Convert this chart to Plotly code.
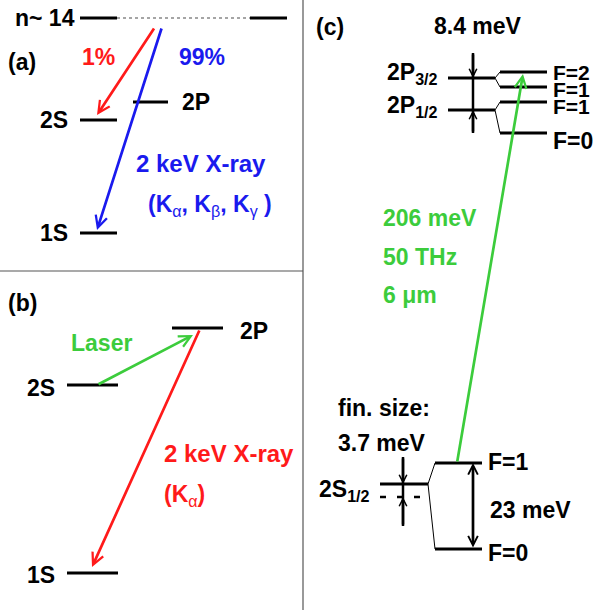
import plotly.graph_objects as go

W, H = 597, 610
FONT = "Liberation Sans"
FS = 23
RED, BLUE, GREEN, BLACK, GRAY = "#ff1a1a", "#1a1aee", "#3ccc3c", "#000000", "#555555"

# ---------------- Panel (a): cascade from n~14 ----------------
A_LEVEL_NAMES = ["n~ 14", "2S", "2P", "1S"]
A_LEVEL_X0 = [80, 80, 133, 80]
A_LEVEL_X1 = [117, 117, 168, 117]
A_LEVEL_E = [18, 120, 102, 233]
A_CONT_X = [117, 250]          # dotted continuation of n~14
A_CONT_X2 = [250, 287]         # right stub of n~14
A_BRANCHES = ["1%", "99%"]
A_ARROW_TAIL = [(155, 27), (162, 27)]
A_ARROW_HEAD = [(97, 115), (97, 230)]

# ---------------- Panel (b): laser + X-ray ----------------
B_LEVEL_NAMES = ["2P", "2S", "1S"]
B_LEVEL_X0 = [172, 67, 67]
B_LEVEL_X1 = [223, 118, 118]
B_LEVEL_E = [328, 385, 573]
B_LASER = [(97, 385), (193, 335)]
B_XRAY = [(200, 329), (92, 567)]

# ---------------- Panel (c): fine / hyperfine structure ----------------
C_FINE_NAMES = ["2P<sub>3/2</sub>", "2P<sub>1/2</sub>", "2S<sub>1/2</sub>"]
C_FINE_X0 = [448, 448, 380]
C_FINE_X1 = [495, 495, 428]
C_FINE_E = [78, 110, 484]
C_HFS_LABELS = ["F=2", "F=1", "F=1", "F=0", "F=1", "F=0"]
C_HFS_PARENT = [0, 0, 1, 1, 2, 2]
C_HFS_X0 = [500, 500, 500, 500, 435, 435]
C_HFS_X1 = [547, 547, 547, 547, 482, 482]
C_HFS_E = [72, 87, 102, 133, 463, 549]
C_FS_SPLIT = "8.4 meV"
C_FIN_SIZE = "3.7 meV"
C_HFS_2S = "23 meV"
C_POINT_E = 497                # 2S level without finite size
C_TRANSITION = ["206 meV", "50 THz", "6 \u03bcm"]

fig = go.Figure()


def seg_trace(xs0, xs1, ys0, ys1, width, color, dash=None):
    X, Y = [], []
    for a, b, c, d in zip(xs0, xs1, ys0, ys1):
        X += [a, b, None]
        Y += [c, d, None]
    fig.add_trace(go.Scatter(x=X, y=Y, mode="lines", hoverinfo="skip",
                             line=dict(width=width, color=color, dash=dash)))


def txt(x, y, s, color=BLACK, xa="left", ya="middle", size=FS):
    fig.add_annotation(x=x, y=y, text=s, showarrow=False, xanchor=xa, yanchor=ya,
                       font=dict(family=FONT, size=size, color=color))


def arrow(tail, head, color, width, size, both=False):
    fig.add_annotation(x=head[0], y=head[1], ax=tail[0], ay=tail[1],
                       xref="x", yref="y", axref="x", ayref="y", text="",
                       showarrow=True, arrowhead=5, arrowsize=size, arrowwidth=width,
                       arrowcolor=color, standoff=0, startstandoff=0,
                       arrowside="end+start" if both else "end",
                       startarrowhead=5, startarrowsize=size)


# separators
seg_trace([0], [303], [271], [271], 1.2, GRAY)
seg_trace([303], [303], [0], [H], 1.2, GRAY)

# ---- panel (a)
seg_trace(A_LEVEL_X0, A_LEVEL_X1, A_LEVEL_E, A_LEVEL_E, 3, BLACK)
seg_trace([A_CONT_X[0]], [A_CONT_X[1]], [A_LEVEL_E[0]], [A_LEVEL_E[0]], 1.3, "#888888", dash="dot")
seg_trace([A_CONT_X2[0]], [A_CONT_X2[1]], [A_LEVEL_E[0]], [A_LEVEL_E[0]], 3, BLACK)
txt(77, A_LEVEL_E[0], "<b>" + A_LEVEL_NAMES[0] + "</b>", xa="right")
txt(70, A_LEVEL_E[1], "<b>" + A_LEVEL_NAMES[1] + "</b>", xa="right")
txt(180, A_LEVEL_E[2], "<b>" + A_LEVEL_NAMES[2] + "</b>")
txt(70, A_LEVEL_E[3], "<b>" + A_LEVEL_NAMES[3] + "</b>", xa="right")
txt(6, 62, "<b>(a)</b>")
arrow(A_ARROW_TAIL[0], A_ARROW_HEAD[0], RED, 2.7, 0.85)
arrow(A_ARROW_TAIL[1], A_ARROW_HEAD[1], BLUE, 2.7, 0.85)
txt(80, 57, "<b>" + A_BRANCHES[0] + "</b>", RED)
txt(177, 57, "<b>" + A_BRANCHES[1] + "</b>", BLUE)
txt(134, 163, "<b>2 keV X-ray</b>", BLUE, size=24)
txt(146, 205, "<b>(K</b><sub>\u03b1</sub><b>, K</b><sub>\u03b2</sub><b>, K</b><sub>\u03b3</sub><b> )</b>", BLUE)

# ---- panel (b)
seg_trace(B_LEVEL_X0, B_LEVEL_X1, B_LEVEL_E, B_LEVEL_E, 3, BLACK)
txt(238, B_LEVEL_E[0] + 3, "<b>" + B_LEVEL_NAMES[0] + "</b>")
txt(57, B_LEVEL_E[1] + 3, "<b>" + B_LEVEL_NAMES[1] + "</b>", xa="right")
txt(57, B_LEVEL_E[2] + 2, "<b>" + B_LEVEL_NAMES[2] + "</b>", xa="right")
txt(6, 303, "<b>(b)</b>")
arrow(B_LASER[0], B_LASER[1], GREEN, 2.7, 0.85)
arrow(B_XRAY[0], B_XRAY[1], RED, 2.7, 0.85)
txt(69, 343, "<b>Laser</b>", GREEN)
txt(162, 453, "<b>2 keV X-ray</b>", RED, size=24)
txt(162, 495, "<b>(K</b><sub>\u03b1</sub><b>)</b>", RED)

# ---- panel (c)
txt(314, 27, "<b>(c)</b>")
seg_trace(C_FINE_X0, C_FINE_X1, C_FINE_E, C_FINE_E, 3, BLACK)
seg_trace(C_HFS_X0, C_HFS_X1, C_HFS_E, C_HFS_E, 3, BLACK)
# fork connectors
seg_trace([C_FINE_X1[p] for p in C_HFS_PARENT], C_HFS_X0,
          [C_FINE_E[p] for p in C_HFS_PARENT], C_HFS_E, 1, BLACK)
# point-nucleus 2S (dashed)
seg_trace([C_FINE_X0[2]], [C_FINE_X1[2]], [C_POINT_E], [C_POINT_E], 2.5, BLACK, dash="6px,11px")
# labels
txt(385, 73, "<b>" + C_FINE_NAMES[0] + "</b>")
txt(385, 106, "<b>" + C_FINE_NAMES[1] + "</b>")
txt(317, 490, "<b>" + C_FINE_NAMES[2] + "</b>")
hfs_label_y = [72, 89, 106, 141, 462, 553]
hfs_label_fs = [21, 21, 21, 23, 23, 23]
for lab, yy, x1, fs in zip(C_HFS_LABELS, hfs_label_y, C_HFS_X1, hfs_label_fs):
    txt(x1 + 4, yy, "<b>" + lab + "</b>", size=fs)
# fine-structure splitting marker
seg_trace([473], [473], [53], [133], 2.5, BLACK)
arrow((473, 53), (473, C_FINE_E[0]), BLACK, 2.5, 0.6)
arrow((473, 133), (473, C_FINE_E[1]), BLACK, 2.5, 0.6)
txt(432, 26, "<b>" + C_FS_SPLIT + "</b>")
# finite-size marker
seg_trace([403], [403], [457], [526], 2.5, BLACK)
arrow((403, 457), (403, C_FINE_E[2]), BLACK, 2.5, 0.6)
arrow((403, 526), (403, C_POINT_E), BLACK, 2.5, 0.6)
txt(336, 408, "<b>fin. size:</b>")
txt(336, 443, "<b>" + C_FIN_SIZE + "</b>")
# 2S hyperfine splitting
fig.add_annotation(x=473, y=C_HFS_E[4], ax=473, ay=C_HFS_E[5], xref="x", yref="y",
                   axref="x", ayref="y", text="", showarrow=True, arrowhead=5,
                   startarrowhead=5, arrowside="end+start", arrowsize=0.7,
                   startarrowsize=0.7, arrowwidth=2.7, arrowcolor=BLACK,
                   standoff=0, startstandoff=0)
txt(488, 510, "<b>" + C_HFS_2S + "</b>")
# laser transition 2S(F=1) -> 2P3/2(F=2)
arrow((457, C_HFS_E[4]), (523, 74), GREEN, 2.7, 0.85)
for lab, yy in zip(C_TRANSITION, [218, 257, 295]):
    txt(381, yy, "<b>" + lab + "</b>", GREEN)

fig.update_layout(
    width=W, height=H, margin=dict(l=0, r=0, t=0, b=0),
    paper_bgcolor="white", plot_bgcolor="white", showlegend=False,
    xaxis=dict(range=[0, W], visible=False, fixedrange=True),
    yaxis=dict(range=[H, 0], visible=False, fixedrange=True),
)
fig.write_html("out.html")
